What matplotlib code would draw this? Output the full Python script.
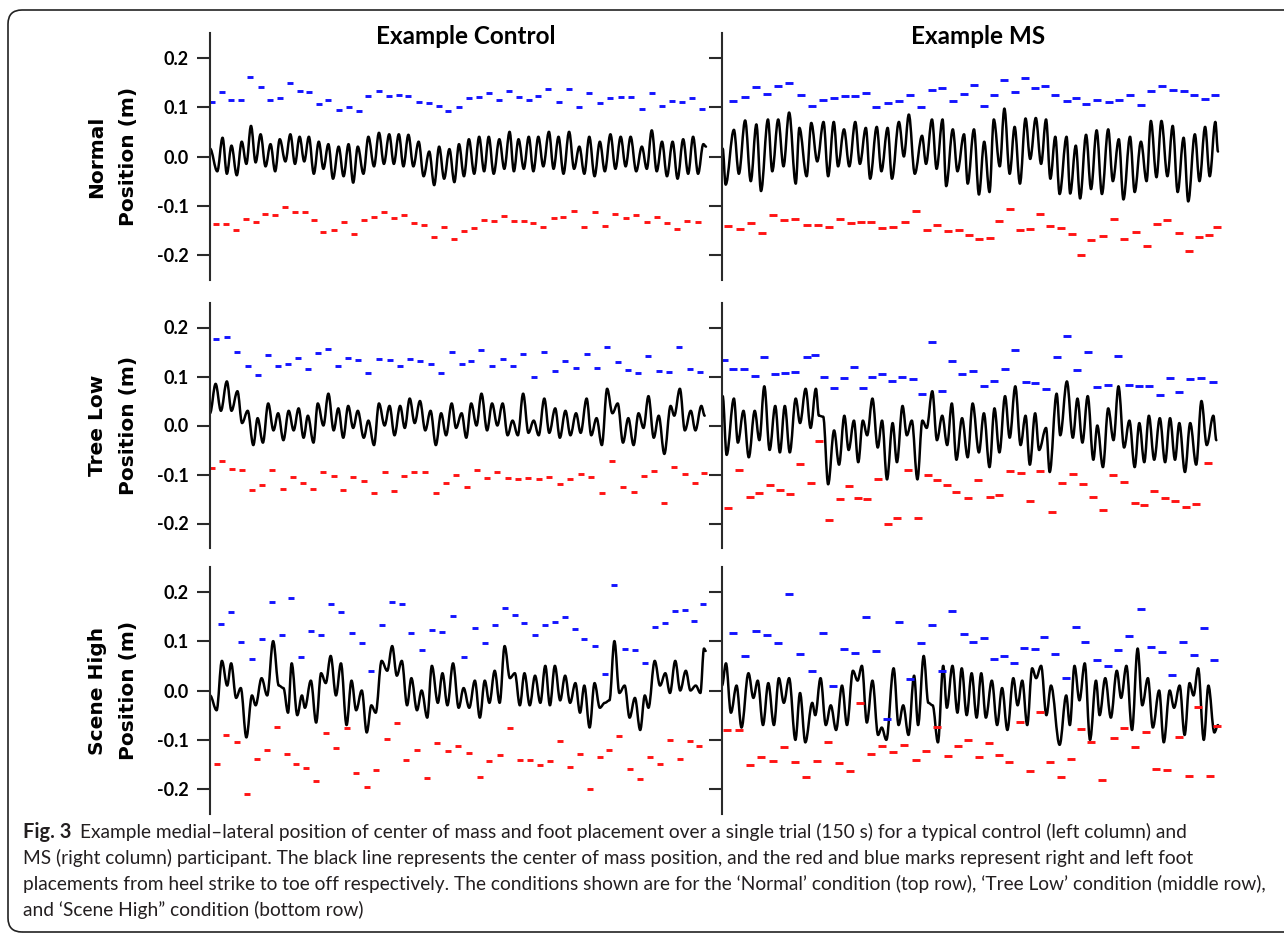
import matplotlib
matplotlib.use("Agg")
import matplotlib.pyplot as plt
from matplotlib.path import Path
from matplotlib.patches import PathPatch, FancyBboxPatch
from matplotlib.transforms import IdentityTransform

# ---- data: time (s) and medial-lateral position (m) ----
# left foot = blue marks, right foot = red marks, com = centre of mass extrema

# Example Control, Normal
cn_left_t = [0.6, 3.5, 6.2, 9.3, 12.2, 15.3, 18.2, 21.1, 24.2, 27.2, 30.0, 32.9, 35.7, 38.9, 41.9, 45.0, 47.9,
             51.1, 54.2, 57.1, 60.0, 63.1, 66.1, 69.2, 72.1, 75.3, 78.3, 81.4, 84.3, 87.5, 90.4, 93.3, 96.4,
             99.3, 102.2, 105.4, 108.6, 111.7, 114.7, 117.9, 121.1, 124.2, 127.2, 130.6, 133.6, 136.7, 139.7,
             142.8, 145.8, 148.9]
cn_left_y = [0.111, 0.131, 0.114, 0.115, 0.160, 0.140, 0.114, 0.118, 0.148, 0.133, 0.130, 0.106, 0.115, 0.095,
             0.100, 0.092, 0.122, 0.133, 0.123, 0.124, 0.123, 0.111, 0.109, 0.102, 0.092, 0.101, 0.119, 0.120,
             0.128, 0.115, 0.133, 0.120, 0.115, 0.122, 0.137, 0.111, 0.137, 0.100, 0.128, 0.108, 0.118, 0.121,
             0.121, 0.097, 0.129, 0.102, 0.113, 0.111, 0.118, 0.096]
cn_right_t = [1.7, 4.7, 7.9, 10.8, 13.8, 16.7, 19.7, 22.8, 25.7, 28.6, 31.5, 34.3, 37.4, 40.4, 43.5, 46.5, 49.6,
              52.6, 55.7, 58.8, 61.7, 64.7, 67.6, 70.7, 73.8, 76.8, 79.7, 82.9, 85.8, 88.9, 91.9, 95.0, 97.8,
              100.8, 103.9, 106.9, 110.0, 113.2, 116.4, 119.4, 122.6, 125.8, 128.9, 132.1, 135.1, 138.2, 141.3,
              144.3, 147.5]
cn_right_y = [-0.136, -0.136, -0.148, -0.126, -0.132, -0.117, -0.119, -0.102, -0.113, -0.112, -0.129, -0.153,
              -0.149, -0.132, -0.157, -0.129, -0.123, -0.113, -0.124, -0.119, -0.135, -0.139, -0.163, -0.142,
              -0.166, -0.150, -0.145, -0.129, -0.131, -0.120, -0.130, -0.131, -0.135, -0.142, -0.124, -0.123,
              -0.110, -0.142, -0.113, -0.140, -0.116, -0.124, -0.119, -0.133, -0.122, -0.135, -0.146, -0.131,
              -0.132]
cn_com_t = [0.0, 2.2, 3.8, 5.1, 6.5, 8.1, 9.6, 11.0, 12.4, 13.8, 15.3, 16.8, 18.3, 19.7, 21.1, 22.8, 24.3, 25.7,
            27.1, 28.5, 29.9, 31.4, 32.9, 34.3, 35.8, 37.2, 38.9, 40.4, 41.9, 43.3, 44.7, 46.4, 47.9, 49.6, 51.1,
            52.6, 54.2, 55.6, 57.1, 58.5, 60.0, 61.5, 63.1, 64.6, 66.3, 67.8, 69.3, 70.8, 72.4, 73.9, 75.3, 76.8,
            78.3, 79.9, 81.4, 82.9, 84.3, 85.8, 87.5, 89.0, 90.6, 91.9, 93.3, 94.9, 96.4, 97.8, 99.3, 100.8, 102.5,
            103.9, 105.4, 106.9, 108.6, 110.1, 111.7, 113.2, 114.7, 116.3, 117.9, 119.4, 121.1, 122.6, 124.2,
            125.7, 127.2, 128.9, 130.6, 132.1, 133.6, 135.1, 136.7, 138.2, 139.9, 141.4, 143.1, 144.6, 146.1,
            147.6, 149.2, 150.0]
cn_com_y = [0.016, -0.03, 0.038, -0.035, 0.022, -0.038, 0.03, -0.015, 0.062, -0.012, 0.045, -0.02, 0.025, -0.03,
            0.035, -0.01, 0.045, -0.015, 0.04, -0.01, 0.04, -0.035, 0.03, -0.025, 0.025, -0.045, 0.02, -0.04,
            0.025, -0.053, 0.02, -0.035, 0.04, -0.02, 0.048, -0.015, 0.045, -0.015, 0.045, -0.02, 0.044, -0.02,
            0.03, -0.04, 0.01, -0.058, 0.02, -0.045, 0.015, -0.052, 0.025, -0.04, 0.035, -0.035, 0.04, -0.03,
            0.04, -0.035, 0.035, -0.025, 0.05, -0.03, 0.035, -0.025, 0.04, -0.03, 0.04, -0.02, 0.05, -0.025, 0.04,
            -0.035, 0.05, -0.025, 0.02, -0.035, 0.04, -0.04, 0.03, -0.03, 0.045, -0.025, 0.04, -0.02, 0.04, -0.03,
            0.02, -0.025, 0.053, -0.03, 0.03, -0.04, 0.03, -0.045, 0.035, -0.035, 0.04, -0.035, 0.025, 0.02]

# Example MS, Normal
mn_left_t = [3.4, 6.9, 10.4, 13.6, 17.0, 20.4, 23.8, 27.3, 30.6, 33.8, 37.2, 40.3, 43.5, 46.7, 50.1, 53.5, 56.9,
             60.2, 63.6, 66.6, 69.9, 73.2, 76.2, 79.2, 82.4, 85.4, 88.5, 91.6, 94.7, 97.7, 100.8, 104.2, 107.1,
             110.1, 113.5, 116.9, 120.0, 123.3, 126.7, 129.7, 133.0, 136.3, 139.6, 142.8, 146.1, 149.2]
mn_left_y = [0.113, 0.120, 0.141, 0.127, 0.142, 0.149, 0.124, 0.102, 0.115, 0.118, 0.122, 0.122, 0.129, 0.101,
             0.109, 0.113, 0.125, 0.100, 0.135, 0.138, 0.113, 0.126, 0.144, 0.103, 0.125, 0.155, 0.131, 0.159,
             0.139, 0.142, 0.124, 0.113, 0.119, 0.107, 0.114, 0.111, 0.115, 0.125, 0.104, 0.133, 0.142, 0.135,
             0.132, 0.125, 0.116, 0.124]
mn_right_t = [1.7, 5.3, 8.8, 12.2, 15.4, 18.9, 22.2, 25.6, 29.1, 32.3, 35.6, 38.9, 42.0, 45.2, 48.4, 51.8, 55.2,
              58.6, 61.9, 65.1, 68.4, 71.7, 74.7, 77.7, 80.9, 83.9, 87.0, 90.1, 93.1, 96.3, 99.3, 102.6, 105.7,
              108.6, 111.7, 115.1, 118.5, 121.6, 125.1, 128.4, 131.5, 134.6, 138.2, 141.2, 144.4, 147.4, 149.7]
mn_right_y = [-0.140, -0.147, -0.135, -0.155, -0.119, -0.128, -0.126, -0.139, -0.138, -0.142, -0.126, -0.135,
              -0.133, -0.133, -0.145, -0.143, -0.132, -0.111, -0.148, -0.139, -0.150, -0.149, -0.159, -0.167,
              -0.164, -0.131, -0.107, -0.148, -0.146, -0.116, -0.140, -0.144, -0.156, -0.199, -0.169, -0.160,
              -0.126, -0.167, -0.152, -0.182, -0.137, -0.128, -0.154, -0.191, -0.163, -0.159, -0.142]
mn_com_t = [0.2, 1.1, 3.6, 5.1, 7.0, 8.7, 10.4, 11.8, 13.9, 15.2, 17.0, 18.6, 20.3, 22.3, 23.4, 25.6, 27.0, 28.8,
            30.7, 32.1, 33.8, 35.1, 36.9, 38.5, 40.3, 41.7, 43.5, 44.8, 46.8, 48.2, 50.1, 51.4, 53.5, 55.0, 56.5,
            58.3, 60.5, 61.7, 63.5, 64.9, 66.7, 67.8, 69.8, 71.2, 73.2, 74.3, 76.2, 77.7, 79.3, 80.9, 82.2, 84.0,
            85.4, 87.0, 88.5, 90.1, 91.8, 93.2, 94.9, 96.5, 98.0, 99.3, 100.8, 102.1, 104.2, 105.3, 107.0, 108.3,
            110.1, 111.6, 113.3, 114.9, 116.8, 118.2, 120.0, 121.4, 123.4, 124.8, 126.7, 128.4, 129.7, 131.4,
            132.9, 134.7, 136.3, 137.8, 139.6, 141.0, 143.0, 144.4, 146.1, 147.5, 149.2, 150.0]
mn_com_y = [0.016, -0.057, 0.054, -0.035, 0.073, -0.05, 0.065, -0.07, 0.075, -0.03, 0.075, -0.02, 0.089, -0.055,
            0.058, -0.04, 0.068, -0.01, 0.07, -0.04, 0.07, -0.02, 0.055, -0.02, 0.07, -0.015, 0.058, -0.045, 0.06,
            -0.03, 0.058, -0.045, 0.07, 0.0, 0.085, -0.035, 0.042, -0.015, 0.075, -0.025, 0.075, -0.06, 0.055,
            -0.03, 0.045, -0.055, 0.055, -0.077, 0.03, -0.072, 0.075, -0.02, 0.097, -0.035, 0.06, -0.055, 0.077,
            -0.005, 0.078, -0.015, 0.075, -0.045, 0.04, -0.076, 0.04, -0.075, 0.022, -0.085, 0.044, -0.066, 0.053,
            -0.076, 0.055, -0.05, 0.035, -0.087, 0.04, -0.072, 0.03, -0.05, 0.072, -0.042, 0.072, -0.04, 0.062,
            -0.072, 0.038, -0.091, 0.045, -0.05, 0.06, -0.04, 0.07, 0.01]

# Example Control, Tree Low
ct_left_t = [1.7, 5.1, 8.2, 11.4, 14.4, 17.5, 20.6, 23.5, 26.7, 29.6, 32.6, 35.7, 38.8, 41.8, 44.7, 47.9, 51.1,
             54.3, 57.4, 60.4, 63.5, 66.7, 69.9, 73.1, 76.1, 79.0, 82.1, 85.3, 88.6, 91.5, 94.7, 97.9, 101.1,
             104.4, 107.5, 110.7, 113.9, 116.9, 120.1, 123.3, 126.5, 129.4, 132.6, 135.7, 138.9, 141.9, 145.1,
             148.3]
ct_left_y = [0.176, 0.181, 0.150, 0.122, 0.104, 0.144, 0.121, 0.125, 0.138, 0.116, 0.147, 0.157, 0.122, 0.137,
             0.134, 0.107, 0.136, 0.133, 0.122, 0.136, 0.132, 0.125, 0.108, 0.149, 0.125, 0.132, 0.155, 0.122,
             0.136, 0.121, 0.145, 0.099, 0.149, 0.111, 0.132, 0.118, 0.146, 0.117, 0.161, 0.129, 0.113, 0.108,
             0.142, 0.112, 0.110, 0.161, 0.115, 0.110]
ct_right_t = [0.6, 3.6, 6.8, 9.7, 12.8, 15.8, 18.9, 22.1, 25.1, 28.2, 31.3, 34.3, 37.4, 40.3, 43.3, 46.5, 49.6,
              52.8, 55.7, 58.8, 61.8, 65.1, 68.3, 71.4, 74.4, 77.6, 80.6, 83.8, 86.9, 90.0, 93.1, 96.3, 99.4,
              102.6, 105.8, 109.0, 112.1, 115.3, 118.5, 121.7, 124.9, 128.1, 131.1, 134.2, 137.4, 140.4, 143.6,
              146.8, 149.3]
ct_right_y = [-0.086, -0.073, -0.088, -0.090, -0.131, -0.121, -0.090, -0.130, -0.106, -0.117, -0.130, -0.094,
              -0.103, -0.132, -0.105, -0.113, -0.137, -0.095, -0.134, -0.104, -0.095, -0.095, -0.137, -0.118,
              -0.100, -0.125, -0.091, -0.108, -0.095, -0.108, -0.110, -0.107, -0.109, -0.105, -0.120, -0.110,
              -0.099, -0.105, -0.138, -0.073, -0.125, -0.136, -0.103, -0.092, -0.158, -0.085, -0.099, -0.118,
              -0.097]
ct_com_t = [0.0, 1.7, 3.3, 5.1, 6.5, 8.3, 9.7, 11.4, 13.1, 14.4, 16.0, 17.6, 19.2, 20.6, 22.2, 23.8, 25.3, 26.8,
            28.3, 29.6, 31.3, 32.6, 34.3, 35.8, 37.4, 38.8, 40.3, 41.8, 43.3, 44.7, 46.5, 47.9, 49.6, 51.1, 52.8,
            54.3, 55.8, 57.5, 58.9, 60.4, 61.9, 63.5, 65.1, 66.7, 68.3, 69.9, 71.4, 73.1, 74.4, 76.1, 77.5, 79.0,
            80.6, 82.1, 83.8, 85.3, 86.9, 88.5, 90.0, 91.5, 93.1, 94.7, 96.3, 97.9, 99.4, 101.1, 102.6, 104.4,
            105.8, 107.5, 109.0, 110.7, 112.1, 113.9, 115.3, 116.9, 118.5, 120.1, 121.7, 123.3, 124.9, 126.5,
            128.1, 129.6, 131.1, 132.6, 134.2, 135.7, 137.4, 139.3, 140.4, 142.1, 143.6, 145.4, 146.8, 148.6,
            149.6]
ct_com_y = [0.025, 0.085, 0.03, 0.09, 0.03, 0.07, 0.005, 0.03, -0.04, 0.015, -0.035, 0.045, -0.01, 0.025, -0.03,
            0.03, -0.01, 0.035, -0.025, 0.02, -0.035, 0.045, 0.0, 0.065, -0.01, 0.035, -0.025, 0.04, -0.005, 0.03,
            -0.025, 0.01, -0.04, 0.045, 0.0, 0.04, -0.02, 0.04, -0.005, 0.055, 0.005, 0.05, -0.01, 0.03, -0.04,
            0.025, -0.02, 0.045, -0.005, 0.025, -0.025, 0.045, 0.0, 0.065, -0.01, 0.045, 0.0, 0.045, -0.02, 0.01,
            -0.02, 0.065, -0.015, 0.01, -0.02, 0.055, -0.015, 0.035, -0.025, 0.03, -0.02, 0.025, -0.015, 0.055,
            -0.02, 0.015, -0.04, 0.075, 0.025, 0.045, -0.035, 0.015, -0.04, 0.025, -0.005, 0.06, -0.025, 0.02,
            -0.058, 0.04, 0.02, 0.075, -0.01, 0.03, -0.01, 0.04, 0.02]

# Example MS, Tree Low
mt_left_t = [0.6, 3.4, 6.8, 9.9, 12.8, 16.1, 19.0, 22.1, 25.6, 28.2, 30.7, 33.8, 37.0, 39.8, 42.5, 45.5, 48.4,
             51.4, 54.4, 57.7, 60.6, 63.6, 66.6, 69.5, 72.6, 75.8, 79.2, 82.4, 85.6, 88.7, 91.8, 94.7, 97.9,
             101.2, 104.3, 107.5, 110.6, 113.5, 116.8, 119.9, 123.2, 126.2, 129.1, 132.4, 135.5, 138.3, 141.6,
             145.0, 148.6]
mt_left_y = [0.134, 0.116, 0.116, 0.101, 0.140, 0.106, 0.108, 0.109, 0.140, 0.143, 0.099, 0.076, 0.097, 0.119,
             0.077, 0.098, 0.105, 0.091, 0.098, 0.094, 0.064, 0.171, 0.070, 0.132, 0.106, 0.111, 0.080, 0.091,
             0.116, 0.154, 0.089, 0.086, 0.074, 0.140, 0.182, 0.114, 0.149, 0.078, 0.083, 0.141, 0.083, 0.080,
             0.081, 0.063, 0.097, 0.069, 0.095, 0.097, 0.088]
mt_right_t = [1.7, 5.1, 8.4, 11.3, 14.4, 17.5, 20.5, 23.6, 26.8, 29.3, 32.4, 35.6, 38.5, 41.1, 44.0, 47.1, 50.1,
              52.9, 56.1, 59.3, 62.2, 65.0, 68.1, 70.9, 74.3, 77.5, 80.9, 83.9, 87.0, 90.3, 93.1, 96.3, 99.7,
              102.7, 106.1, 109.2, 112.3, 115.2, 118.3, 121.6, 124.8, 127.7, 130.7, 134.0, 137.0, 140.2, 143.4,
              147.1]
mt_right_y = [-0.169, -0.091, -0.146, -0.137, -0.121, -0.131, -0.140, -0.078, -0.118, -0.032, -0.193, -0.150,
              -0.123, -0.148, -0.151, -0.110, -0.201, -0.188, -0.090, -0.189, -0.101, -0.111, -0.121, -0.135,
              -0.147, -0.111, -0.145, -0.142, -0.092, -0.097, -0.155, -0.093, -0.176, -0.118, -0.098, -0.119,
              -0.145, -0.173, -0.101, -0.115, -0.159, -0.162, -0.134, -0.148, -0.155, -0.166, -0.160, -0.077]
mt_com_t = [0.2, 1.4, 3.6, 4.8, 6.5, 8.1, 9.9, 11.3, 12.8, 14.4, 16.1, 17.5, 19.0, 20.5, 22.3, 23.6, 25.3, 26.8,
            28.4, 29.3, 30.6, 32.1, 33.9, 35.4, 37.0, 38.3, 39.9, 41.2, 42.6, 43.9, 45.5, 47.1, 48.4, 49.9, 51.6,
            52.9, 54.6, 55.9, 57.4, 59.1, 60.6, 61.9, 63.6, 65.0, 66.6, 68.1, 69.5, 70.9, 72.6, 74.3, 75.8, 77.7,
            79.2, 80.9, 82.4, 83.9, 85.6, 87.0, 88.7, 90.3, 91.8, 93.1, 94.7, 95.9, 98.0, 99.1, 101.2, 102.3,
            104.3, 106.1, 107.5, 109.0, 110.6, 112.3, 113.5, 115.2, 116.8, 118.4, 119.9, 121.6, 123.2, 124.8,
            126.2, 127.7, 129.1, 130.7, 132.4, 134.0, 135.5, 137.0, 138.3, 140.0, 141.6, 143.4, 145.0, 146.6,
            148.6, 149.5]
mt_com_y = [0.06, -0.06, 0.055, -0.035, 0.03, -0.065, 0.03, -0.03, 0.08, -0.05, 0.04, -0.055, 0.04, -0.055,
            0.055, 0.005, 0.075, -0.005, 0.075, 0.02, 0.018, -0.12, -0.01, -0.08, 0.02, -0.05, 0.01, -0.075, 0.01,
            -0.02, 0.055, -0.045, 0.01, -0.11, 0.005, -0.075, 0.04, -0.02, 0.01, -0.11, 0.01, -0.005, 0.07, -0.03,
            0.02, -0.04, 0.045, -0.07, 0.015, -0.065, 0.045, -0.055, 0.025, -0.085, 0.035, -0.055, 0.06, -0.025,
            0.08, -0.04, 0.02, -0.08, 0.025, -0.05, -0.005, -0.095, 0.065, -0.02, 0.09, -0.025, 0.055, -0.035,
            0.06, -0.07, 0.0, -0.085, 0.035, -0.03, 0.08, -0.045, 0.01, -0.085, 0.005, -0.075, 0.02, -0.07, 0.015,
            -0.075, 0.015, -0.07, 0.005, -0.095, 0.005, -0.08, 0.05, -0.04, 0.02, -0.03]

# Example Control, Scene High
cs_left_t = [3.3, 6.4, 9.5, 12.6, 15.6, 18.8, 21.9, 24.5, 27.6, 30.5, 33.6, 36.5, 39.6, 42.8, 45.9, 48.8, 51.9,
             55.1, 58.0, 60.9, 64.0, 67.1, 70.3, 73.5, 76.7, 80.1, 83.1, 86.1, 89.1, 92.2, 95.1, 98.3, 101.4,
             104.3, 107.3, 110.3, 113.2, 116.5, 119.4, 122.3, 125.4, 128.5, 131.5, 134.5, 137.7, 140.7, 143.5,
             146.4, 149.2]
cs_left_y = [0.135, 0.158, 0.099, 0.063, 0.105, 0.180, 0.113, 0.187, 0.068, 0.121, 0.113, 0.175, 0.159, 0.117,
             0.096, 0.039, 0.132, 0.180, 0.176, 0.116, 0.082, 0.123, 0.119, 0.150, 0.068, 0.126, 0.097, 0.132,
             0.167, 0.152, 0.137, 0.112, 0.132, 0.138, 0.148, 0.125, 0.104, 0.090, 0.033, 0.213, 0.085, 0.081,
             0.056, 0.129, 0.136, 0.161, 0.163, 0.140, 0.175]
cs_right_t = [2.0, 4.9, 8.1, 11.2, 14.1, 17.3, 20.4, 23.4, 26.1, 29.1, 32.1, 35.0, 38.1, 41.3, 44.2, 47.4, 50.3,
              53.4, 56.5, 59.4, 62.6, 65.7, 68.8, 72.0, 75.0, 78.4, 81.6, 84.5, 87.6, 90.7, 93.7, 96.7, 99.9,
              102.8, 105.9, 108.8, 111.9, 114.8, 117.9, 120.8, 123.8, 127.1, 130.1, 133.1, 136.1, 139.1, 142.2,
              145.1, 147.9]
cs_right_y = [-0.148, -0.090, -0.104, -0.209, -0.138, -0.121, -0.074, -0.129, -0.148, -0.156, -0.184, -0.086,
              -0.116, -0.075, -0.168, -0.195, -0.160, -0.098, -0.065, -0.141, -0.121, -0.178, -0.107, -0.123,
              -0.113, -0.127, -0.176, -0.142, -0.131, -0.075, -0.140, -0.140, -0.150, -0.142, -0.102, -0.155,
              -0.129, -0.199, -0.134, -0.121, -0.092, -0.159, -0.180, -0.134, -0.148, -0.100, -0.139, -0.103,
              -0.112]
cs_com_t = [0.0, 2.0, 3.6, 5.2, 6.4, 7.9, 9.3, 11.0, 12.7, 13.8, 15.6, 17.3, 19.1, 20.8, 22.2, 23.6, 24.7, 26.4,
            27.8, 28.7, 30.5, 32.1, 33.6, 35.0, 36.5, 38.1, 39.6, 41.3, 42.8, 44.2, 45.9, 47.4, 48.8, 50.1, 51.9,
            53.6, 55.1, 56.5, 58.0, 59.6, 60.9, 62.6, 64.0, 65.7, 67.1, 68.9, 70.3, 71.8, 73.5, 75.2, 76.7, 78.4,
            80.1, 81.6, 83.1, 84.5, 86.1, 87.6, 89.1, 90.7, 92.2, 93.7, 95.1, 96.7, 98.3, 99.9, 101.4, 102.8,
            104.3, 105.9, 107.4, 108.9, 110.5, 111.9, 113.2, 114.8, 116.3, 117.9, 119.4, 120.8, 122.3, 123.8,
            125.4, 126.9, 128.5, 130.1, 131.5, 132.6, 134.5, 136.1, 137.7, 139.1, 140.7, 142.2, 143.9, 145.3,
            146.9, 148.3, 149.4, 149.9]
cs_com_y = [-0.01, -0.04, 0.06, 0.01, 0.055, -0.015, 0.005, -0.095, -0.01, -0.03, 0.025, -0.01, 0.1, 0.01, 0.005,
            -0.045, 0.055, -0.05, -0.01, -0.035, 0.02, -0.065, 0.035, 0.015, 0.07, -0.01, 0.055, -0.07, 0.02, -0.04,
            0.0, -0.085, -0.03, -0.045, 0.06, 0.04, 0.09, 0.03, 0.06, -0.03, 0.025, -0.04, 0.0, -0.055, 0.05,
            -0.025, 0.035, -0.03, 0.055, -0.035, 0.005, -0.035, 0.02, -0.055, 0.02, -0.025, 0.04, -0.025, 0.09,
            0.025, 0.035, -0.03, 0.035, -0.03, 0.03, -0.025, 0.05, -0.03, 0.05, -0.02, 0.03, -0.025, 0.015, -0.045,
            0.01, -0.075, 0.015, -0.035, -0.025, -0.02, 0.1, -0.005, 0.01, -0.055, -0.015, -0.08, -0.01, -0.035,
            0.06, 0.01, 0.035, -0.005, 0.06, 0.0, 0.04, 0.0, 0.01, -0.005, 0.085, 0.08]

# Example MS, Scene High
ms_left_t = [3.3, 6.9, 10.2, 13.5, 16.9, 20.3, 23.6, 27.1, 30.5, 33.7, 36.9, 40.2, 43.4, 46.6, 49.9, 53.4, 56.8,
             60.1, 63.4, 66.6, 69.7, 73.1, 76.0, 79.1, 82.4, 85.2, 88.4, 91.4, 94.7, 97.5, 100.7, 103.9, 107.0,
             109.9, 113.3, 116.7, 119.9, 123.2, 126.6, 129.7, 133.0, 136.1, 139.5, 142.7, 145.7, 148.9]
ms_left_y = [0.116, 0.070, 0.121, 0.113, 0.096, 0.196, 0.073, 0.039, 0.117, 0.009, 0.084, 0.076, 0.148, 0.079,
             -0.057, 0.138, 0.024, 0.097, 0.133, 0.039, 0.160, 0.114, 0.098, 0.107, 0.064, 0.069, 0.055, 0.086,
             0.085, 0.108, 0.073, 0.026, 0.129, 0.098, 0.062, 0.049, 0.081, 0.111, 0.164, 0.088, 0.077, 0.031,
             0.099, 0.071, 0.127, 0.061]
ms_right_t = [1.6, 5.1, 8.6, 11.9, 15.3, 18.7, 22.1, 25.5, 28.8, 32.2, 35.4, 38.7, 41.8, 45.0, 48.4, 51.7, 55.1,
              58.7, 61.8, 65.1, 68.2, 71.4, 74.5, 77.6, 80.7, 83.8, 86.9, 90.1, 93.1, 96.3, 99.3, 102.5, 105.6,
              108.6, 111.7, 115.0, 118.4, 121.7, 125.0, 128.3, 131.2, 134.5, 138.1, 141.2, 144.1, 147.5, 149.8]
ms_right_y = [-0.079, -0.079, -0.151, -0.134, -0.142, -0.115, -0.145, -0.176, -0.142, -0.104, -0.146, -0.163,
              -0.026, -0.129, -0.113, -0.124, -0.111, -0.140, -0.123, -0.073, -0.132, -0.113, -0.101, -0.134,
              -0.106, -0.131, -0.144, -0.064, -0.163, -0.044, -0.145, -0.176, -0.138, -0.077, -0.105, -0.181,
              -0.097, -0.075, -0.114, -0.085, -0.159, -0.161, -0.094, -0.174, -0.033, -0.174, -0.071]
ms_com_t = [0.0, 1.2, 2.7, 4.4, 5.9, 8.0, 9.5, 10.8, 12.4, 14.0, 15.7, 17.2, 18.7, 20.3, 22.2, 23.6, 25.2, 27.3,
            28.2, 29.8, 31.4, 32.9, 34.5, 36.3, 37.8, 39.6, 41.0, 42.3, 43.8, 45.5, 47.2, 48.3, 49.7, 51.9, 53.4,
            54.8, 56.4, 58.1, 59.3, 61.0, 62.4, 63.7, 65.3, 66.9, 68.0, 69.7, 71.2, 72.5, 74.0, 75.5, 77.0, 78.4,
            79.8, 81.6, 83.2, 84.7, 86.3, 88.1, 89.4, 90.8, 92.3, 93.8, 95.0, 96.5, 98.1, 99.5, 102.1, 104.1,
            105.2, 106.6, 108.1, 109.7, 111.3, 113.1, 114.2, 115.9, 117.6, 119.4, 120.7, 122.3, 124.0, 125.7,
            127.1, 128.8, 130.3, 132.2, 133.6, 135.4, 136.7, 138.4, 139.9, 141.4, 142.6, 144.0, 145.7, 147.1,
            148.9, 150.0]
ms_com_y = [0.01, 0.055, -0.045, 0.01, -0.075, 0.035, -0.015, 0.02, -0.07, 0.015, -0.07, 0.025, -0.025, 0.025,
            -0.1, -0.005, -0.105, -0.025, -0.05, 0.025, -0.07, -0.03, -0.08, 0.01, -0.07, 0.04, 0.02, 0.05, -0.065,
            0.02, -0.09, -0.075, -0.1, 0.045, -0.07, -0.03, -0.09, 0.03, -0.07, 0.07, -0.025, -0.03, -0.105, 0.05,
            -0.035, 0.05, -0.045, 0.045, -0.05, 0.035, -0.055, 0.035, -0.055, 0.02, -0.07, 0.005, -0.08, 0.025,
            -0.03, 0.02, -0.07, 0.045, 0.025, 0.05, -0.05, 0.01, -0.11, -0.01, -0.07, 0.05, -0.02, 0.055, -0.1,
            0.02, -0.05, 0.025, -0.055, 0.04, -0.015, 0.05, -0.08, 0.085, -0.03, 0.025, -0.075, 0.0, -0.105, 0.0,
            -0.035, 0.01, -0.09, 0.015, -0.01, 0.045, -0.1, 0.01, -0.085, -0.07]

row_labels = ["Normal\nPosition (m)", "Tree Low\nPosition (m)", "Scene High\nPosition (m)"]
col_titles = ["Example Control", "Example MS"]
y_ticks = [-0.2, -0.1, 0.0, 0.1, 0.2]
y_tick_labels = ["-0.2", "-0.1", "0.0", "0.1", "0.2"]

caption_bold = "Fig. 3"
caption_lines = [
    "Example medial\u2013lateral position of center of mass and foot placement over a single trial (150 s) "
    "for a typical control (left column) and",
    "MS (right column) participant. The black line represents the center of mass position, and the red and "
    "blue marks represent right and left foot",
    "placements from heel strike to toe off respectively. The conditions shown are for the \u2018Normal\u2019 "
    "condition (top row), \u2018Tree Low\u2019 condition (middle row),",
    "and \u2018Scene High\u201d condition (bottom row)",
]

panels = [
    [(cn_left_t, cn_left_y, cn_right_t, cn_right_y, cn_com_t, cn_com_y),
     (mn_left_t, mn_left_y, mn_right_t, mn_right_y, mn_com_t, mn_com_y)],
    [(ct_left_t, ct_left_y, ct_right_t, ct_right_y, ct_com_t, ct_com_y),
     (mt_left_t, mt_left_y, mt_right_t, mt_right_y, mt_com_t, mt_com_y)],
    [(cs_left_t, cs_left_y, cs_right_t, cs_right_y, cs_com_t, cs_com_y),
     (ms_left_t, ms_left_y, ms_right_t, ms_right_y, ms_com_t, ms_com_y)],
]


def com_path(t, y):
    """Smooth curve through the extrema, flat tangent at each one."""
    assert len(t) == len(y)
    verts = [(t[0], y[0])]
    codes = [Path.MOVETO]
    for i in range(1, len(t)):
        d = 0.36 * (t[i] - t[i - 1])
        verts += [(t[i - 1] + d, y[i - 1]), (t[i] - d, y[i]), (t[i], y[i])]
        codes += [Path.CURVE4] * 3
    return Path(verts, codes)


W, H = 1284, 934
fig = plt.figure(figsize=(W / 100, H / 100), dpi=100)

# rounded frame around figure + caption
frame = FancyBboxPatch((8, 2), 1320, H - 12, boxstyle="round,pad=0,rounding_size=14",
                       transform=IdentityTransform(), fill=False, lw=1.2, ec="#222222")
fig.add_artist(frame)

row_px = [(33, 280), (303, 548), (567, 814)]
col_px = [210, 722]
ax_w = 512
spine_c = "#2a2a2a"

for r, (top, bot) in enumerate(row_px):
    for c, x0 in enumerate(col_px):
        ax = fig.add_axes([x0 / W, 1 - bot / H, ax_w / W, (bot - top) / H])
        lt, ly, rt, ry, ct, cy = panels[r][c]
        ax.add_patch(PathPatch(com_path(ct, cy), fill=False, lw=1.8, ec="black",
                               capstyle="round", joinstyle="round"))
        ms = 5.0 if c == 0 else 6.0
        ax.plot(lt, ly, ls="none", marker="_", ms=ms, mew=2.1, color="#1414ff")
        ax.plot(rt, ry, ls="none", marker="_", ms=ms, mew=2.1, color="#ff1414")
        ax.set_xlim(0, 150 * ax_w / 496)
        ax.set_ylim(-0.25, 0.25)
        for s in ["top", "right", "bottom"]:
            ax.spines[s].set_visible(False)
        ax.spines["left"].set_linewidth(1.5)
        ax.spines["left"].set_color(spine_c)
        ax.set_xticks([])
        ax.set_yticks(y_ticks)
        ax.tick_params(axis="y", direction="out", length=9.5, width=1.5, color=spine_c, pad=6)
        if c == 0:
            ax.set_yticklabels(y_tick_labels, fontfamily="Lato", fontweight="bold", fontsize=13)
        else:
            ax.set_yticklabels([])
        ax.patch.set_visible(False)
        if r == 0:
            fig.text((x0 + ax_w / 2) / W, 1 - 44 / H, col_titles[c], ha="center", va="baseline",
                     fontfamily="Lato", fontweight="bold", fontsize=17.5)
    fig.text(113 / W, 1 - (top + bot) / 2 / H, row_labels[r], rotation=90, ha="center", va="center",
             multialignment="center", fontfamily="DejaVu Sans", fontweight="bold", fontsize=14.5,
             linespacing=1.85)

# caption, fitted to the width of its widest line
renderer = fig.canvas.get_renderer()
cap_size = 12.5
probe = fig.text(0, 0, caption_lines[2], fontfamily="Lato", fontsize=cap_size)
wpx = probe.get_window_extent(renderer).width
probe.remove()
cap_size *= (1270 - 23) / wpx
cap_c = "#231f20"
base = [838, 864, 890, 916]
fb = fig.text(23 / W, 1 - base[0] / H, caption_bold, fontfamily="Lato", fontweight="bold",
              fontsize=cap_size * 1.05, color=cap_c, va="baseline")
bw = fb.get_window_extent(renderer).width
fig.text((23 + bw + 8) / W, 1 - base[0] / H, caption_lines[0], fontfamily="Lato", fontsize=cap_size,
         color=cap_c, va="baseline")
for i in range(1, 4):
    fig.text(23 / W, 1 - base[i] / H, caption_lines[i], fontfamily="Lato", fontsize=cap_size,
             color=cap_c, va="baseline")

fig.savefig("out.png", dpi=100)
